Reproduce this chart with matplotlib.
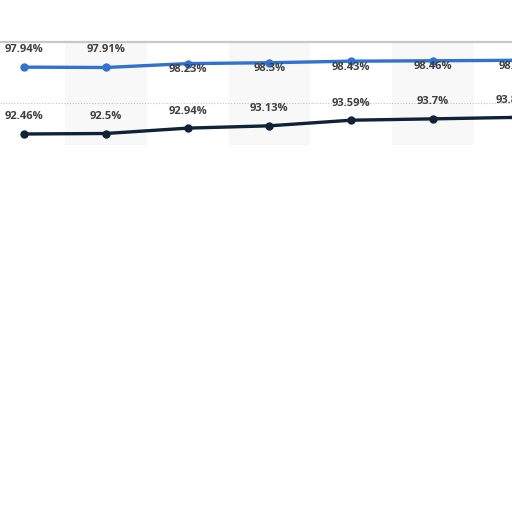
import matplotlib
matplotlib.use("Agg")
import matplotlib.pyplot as plt
import numpy as np

# values (last point is cut off at the right edge)
labels_blue = ["97.94%", "97.91%", "98.23%", "98.3%", "98.43%", "98.46%", "98.5%"]
labels_dark = ["92.46%", "92.5%", "92.94%", "93.13%", "93.59%", "93.7%", "93.82%"]
blue = [97.94, 97.91, 98.23, 98.3, 98.43, 98.46, 98.5]
dark = [92.46, 92.5, 92.94, 93.13, 93.59, 93.7, 93.82]

blue_col = "#2f72d0"
dark_col = "#0f2236"

fig = plt.figure(figsize=(5.12, 5.12), dpi=100)
fig.patch.set_facecolor("white")

top_px, bot_px = 42, 145
ax = fig.add_axes([0, 1 - bot_px / 512, 1, (bot_px - top_px) / 512])
x = np.arange(len(blue))
ax.set_xlim(-24 / 81.8, (512 - 24) / 81.8)
ax.set_ylim(100 - (bot_px - top_px) / 12.2, 100)

# alternating column bands
for i in x:
    if i % 2 == 1:
        ax.axvspan(i - 0.5, i + 0.5, color="#f8f8f8", lw=0, zorder=0)

ax.axhline(95, color="#c4c4c4", lw=0.8, ls=(0, (1, 1.5)), zorder=1)

ax.plot(x, blue, color=blue_col, lw=2.4, marker="o", ms=5, zorder=3, clip_on=False)
ax.plot(x, dark, color=dark_col, lw=2.4, marker="o", ms=5, zorder=3, clip_on=False)

txt = dict(ha="center", va="center", fontsize=8, color="#404040",
           family=["Open Sans", "DejaVu Sans"], fontweight="bold",
           textcoords="offset pixels", zorder=4, annotation_clip=False)
for i in x:
    off = 18 if i < 2 else -6
    ax.annotate(labels_blue[i], (i, blue[i]), xytext=(0, off), **txt)
    ax.annotate(labels_dark[i], (i, dark[i]), xytext=(0, 17), **txt)

for s in ["right", "bottom", "left"]:
    ax.spines[s].set_visible(False)
ax.spines["top"].set_color("#c8c8c8")
ax.spines["top"].set_linewidth(1.6)
ax.set_xticks([])
ax.set_yticks([])

fig.savefig("out.png", dpi=100, facecolor="white")
